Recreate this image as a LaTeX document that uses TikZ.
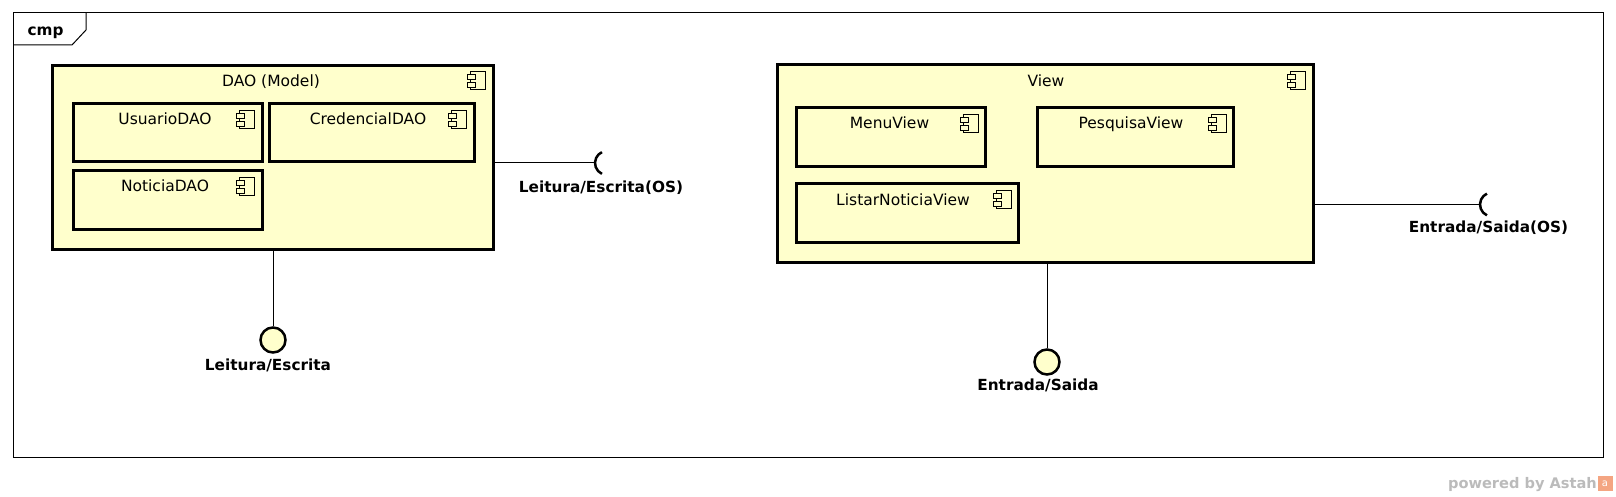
\documentclass[tikz,border=0pt]{standalone}
\usepackage{fontspec}
\setmainfont{DejaVu Sans}
\definecolor{compfill}{HTML}{FFFFCC}
\definecolor{astahorange}{HTML}{F4A582}
\definecolor{markgray}{HTML}{BBBBBB}

\begin{document}
\begin{tikzpicture}[x=1pt, y=-1pt,
		comp/.style={rectangle, draw, line width=3, fill=compfill, inner sep=0},
		complabel/.style={anchor=base, inner sep=0, font=\fontsize{15.5}{18}\selectfont},
		iface/.style={anchor=base, inner sep=0, font=\fontsize{15.3}{18}\selectfont\bfseries},
		lolli/.style={circle, draw, line width=2.5, fill=compfill, minimum size=25, inner sep=0},
		socket/.style={line width=2.5},
		compicon/.pic={
			\draw[line width=1] (-24,8) rectangle (-9,26);
			\draw[line width=1, fill=compfill] (-27,11) rectangle (-19,16);
			\draw[line width=1, fill=compfill] (-27,19) rectangle (-19,24);
		}]
			\useasboundingbox (0,0) rectangle (1616,497);
			% frame
			\draw (808, 235) node [draw, line width=1, minimum width=1590, minimum height=444] (frame) {};
			\draw[line width=1] (13, 45) -- (72, 45) -- (86, 30) -- (86, 13);
			\node [iface] (cmplabel) at (45.5, 36) {cmp};
			% DAO (Model)
			\draw (272.5, 157.5) node [comp, minimum width=441, minimum height=184] (dao) {};
			\draw (167.5, 133) node [comp, minimum width=189, minimum height=58] (usuario) {};
			\draw (371.5, 133) node [comp, minimum width=205, minimum height=58] (credencial) {};
			\draw (167.5, 200) node [comp, minimum width=189, minimum height=58] (noticia) {};
			\pic at (dao.north east) {compicon};
			\pic at (usuario.north east) {compicon};
			\pic at (credencial.north east) {compicon};
			\pic at (noticia.north east) {compicon};
			\node [complabel] (daolabel) at (271, 87) {DAO (Model)};
			\node [complabel] (usuariolabel) at (165, 125) {UsuarioDAO};
			\node [complabel] (credenciallabel) at (368, 125) {CredencialDAO};
			\node [complabel] (noticialabel) at (165, 192) {NoticiaDAO};
			% View
			\draw (1045, 163.5) node [comp, minimum width=536, minimum height=197] (view) {};
			\draw (891, 137.5) node [comp, minimum width=189, minimum height=59] (menu) {};
			\draw (1135.5, 137.5) node [comp, minimum width=196, minimum height=59] (pesquisa) {};
			\draw (907.5, 213) node [comp, minimum width=222, minimum height=58] (listar) {};
			\pic at (view.north east) {compicon};
			\pic at (menu.north east) {compicon};
			\pic at (pesquisa.north east) {compicon};
			\pic at (listar.north east) {compicon};
			\node [complabel] (viewlabel) at (1046, 87) {View};
			\node [complabel] (menulabel) at (889.5, 129) {MenuView};
			\node [complabel] (pesquisalabel) at (1131, 129) {PesquisaView};
			\node [complabel] (listarlabel) at (903, 205) {ListarNoticiaView};
			% provided interfaces
			\node [lolli] (leit) at (273, 340) {};
			\node [lolli] (entr) at (1047, 362) {};
			\path[draw, line width=1] (dao.south -| leit) -- (leit);
			\path[draw, line width=1] (view.south -| entr) -- (entr);
			\node [iface] (leitlabel) at (268, 370) {Leitura/Escrita};
			\node [iface] (entrlabel) at (1038, 390) {Entrada/Saida};
			% required interfaces
			\coordinate (leitos) at (595, 163);
			\coordinate (entros) at (1480, 204.5);
			\path[draw, line width=1] (dao.east |- leitos) -- (leitos);
			\path[draw, line width=1] (view.east |- entros) -- (entros);
			\draw[socket] (leitos) ++(6.93, 10.88) arc[start angle=115, end angle=245, radius=12];
			\draw[socket] (entros) ++(6.93, 10.88) arc[start angle=115, end angle=245, radius=12];
			\node [iface] (leitoslabel) at (601, 193) {Leitura/Escrita(OS)};
			\node [iface] (entroslabel) at (1488.5, 233) {Entrada/Saida(OS)};
			% watermark
			\node [anchor=base east, inner sep=0, text=markgray, font=\fontsize{14.6}{17}\selectfont\bfseries] (powered) at (1597, 488) {powered by Astah};
			\draw (1605, 483.5) node [fill=astahorange, minimum size=15, inner sep=0, text=white, font=\fontsize{10}{10}\selectfont] (astahlogo) {a};
		\end{tikzpicture}
\end{document}
